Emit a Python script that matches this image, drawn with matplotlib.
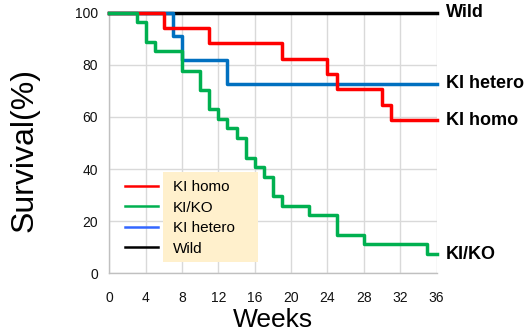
import matplotlib
matplotlib.use('Agg')
import matplotlib.pyplot as plt
from matplotlib.lines import Line2D
from matplotlib.patches import Rectangle

plt.rcParams['font.family'] = ['Liberation Sans', 'DejaVu Sans']

#-----------------Survival data (weeks, % surviving)-------------

wild_weeks = [0, 36]
wild_surv = [100, 100]

hetero_weeks = [0, 7, 8, 13, 36]
hetero_surv = [100, 90.9, 81.8, 72.7, 72.7]

homo_weeks = [0, 6, 11, 19, 24, 25, 30, 31, 36]
homo_surv = [100, 94.1, 88.2, 82.4, 76.5, 70.6, 64.7, 58.8, 58.8]

kiko_weeks = [0, 3, 4, 5, 8, 10, 11, 12, 13, 14, 15, 16, 17, 18, 19, 22, 25, 28, 35, 36]
kiko_surv = [100, 96.3, 88.9, 85.2, 77.8, 70.4, 63.0, 59.3, 55.6, 51.9, 44.4,
             40.7, 37.0, 29.6, 25.9, 22.2, 14.8, 11.1, 7.4, 7.4]

group_names = ['KI homo', 'KI/KO', 'KI hetero', 'Wild']
week_ticks = [0, 4, 8, 12, 16, 20, 24, 28, 32, 36]
surv_ticks = [0, 20, 40, 60, 80, 100]

#-----------------Figure-------------

fig = plt.figure(figsize=(5.3, 3.33), dpi=100)
ax = fig.add_axes([0.2062, 0.1793, 0.6175, 0.7826])

lw = 2.5
ax.step(wild_weeks, wild_surv, where='post', color='black', lw=lw, clip_on=False, zorder=3)
ax.step(hetero_weeks, hetero_surv, where='post', color='#0070C0', lw=lw, clip_on=False, zorder=4)
ax.step(homo_weeks, homo_surv, where='post', color='#FF0000', lw=lw, clip_on=False, zorder=5)
ax.step(kiko_weeks, kiko_surv, where='post', color='#00B050', lw=lw, clip_on=False, zorder=6)

ax.set_xlim(0, 36)
ax.set_ylim(0, 100)
ax.set_xticks(week_ticks)
ax.set_yticks(surv_ticks)
ax.tick_params(length=0, labelsize=10, colors='#111111')
ax.tick_params(axis='x', pad=13)
ax.tick_params(axis='y', pad=8)
ax.grid(True, color='#D9D9D9', lw=1)
ax.set_axisbelow(True)
for side in ['top', 'right']:
    ax.spines[side].set_visible(False)
for side in ['left', 'bottom']:
    ax.spines[side].set_color('#C0C0C0')
    ax.spines[side].set_linewidth(1)

ax.set_xlabel('Weeks', fontsize=19, va='center')
ax.xaxis.set_label_coords(0.5, -0.178)
ax.set_ylabel('Survival(%)', fontsize=23, va='center')
ax.yaxis.set_label_coords(-0.258, 0.473)

# group names at the end of each curve
end_labels = [(homo_surv[-1], 'KI homo'), (kiko_surv[-1], 'KI/KO'),
              (hetero_surv[-1], 'KI hetero'), (wild_surv[-1], 'Wild')]
for yv, name in end_labels:
    ax.text(37, yv, name, fontsize=13, fontweight='bold', va='center', ha='left',
            clip_on=False)

#-----------------Legend-------------

legend_colors = ['#FF0000', '#00B050', '#3366FF', 'black']
handles = [Line2D([], [], color=c, lw=1.8) for c in legend_colors]
leg = ax.legend(handles, group_names, loc='upper left', bbox_to_anchor=(0.048, 0.358),
                frameon=False, fontsize=11, handlelength=2.16, handletextpad=0.98,
                labelspacing=0.43, borderpad=0, borderaxespad=0)
leg.set_zorder(8)
ax.add_patch(Rectangle((0.164, 0.043), 0.291, 0.346, transform=ax.transAxes,
                       facecolor='#FFF0CC', edgecolor='none', zorder=7))

fig.savefig('out.png', dpi=100)
